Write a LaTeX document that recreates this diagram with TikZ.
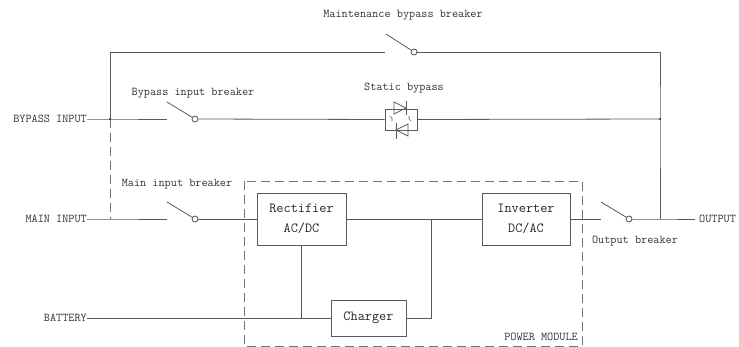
\documentclass[tikz,border=0pt]{standalone}
\usepackage{fontspec}
\usetikzlibrary{calc}
\begin{document}
\begin{tikzpicture}[x=1pt,y=-1pt,
  wire/.style={draw=black!65,line width=0.8pt},
  pmline/.style={draw=black!55,line width=0.8pt,dash pattern=on 9pt off 5pt},
  lbl/.style={font=\fontsize{11.9}{13}\ttfamily,text=black!80,inner sep=0pt},
  blk/.style={draw=black!65,line width=0.8pt,align=center,inner sep=0pt,
    font=\fontsize{13.9}{20}\ttfamily,text=black!85},
  brk/.style={circle,draw=black!70,line width=0.8pt,inner sep=0pt,minimum size=6pt},
  dot/.style={circle,fill=black!80,inner sep=0pt,minimum size=2.2pt}]
\useasboundingbox (0,0) rectangle (739,347);
% labels
\node[lbl,anchor=east] (bi) at (87,119) {BYPASS INPUT};
\node[lbl,anchor=east] (mi) at (87,219) {MAIN INPUT};
\node[lbl,anchor=east] (bat) at (87,318) {BATTERY};
\node[lbl,anchor=west] (out) at (699,219) {OUTPUT};
\node[lbl] (lmb) at (403,15) {Maintenance bypass breaker};
\node[lbl] (lbb) at (193,93) {Bypass input breaker};
\node[lbl] (lmi) at (177,184) {Main input breaker};
\node[lbl] (lsb) at (404,88) {Static bypass};
\node[lbl] (lob) at (635,241) {Output breaker};
\node[lbl,anchor=base east] (lpm) at (578,341) {POWER MODULE};
% blocks
\node[blk,minimum width=89pt,minimum height=52pt] (rect) at (301.5,219) {Rectifier\\AC/DC};
\node[blk,minimum width=88pt,minimum height=52pt] (inv) at (526,219) {Inverter\\DC/AC};
\node[blk,minimum width=75pt,minimum height=36pt] (chg) at (368.5,318) {Charger};
\node[draw=black!65,line width=0.8pt,minimum width=32pt,minimum height=21pt,inner sep=0pt] (sb) at (401,119.5) {};
% power module
\draw[pmline] (244,181) rectangle (582,346);
% coordinates
\coordinate (tl) at (110,52);
\coordinate (tr) at (660,52);
\coordinate (jb) at (110,119);
\coordinate (jm) at (110,219);
\coordinate (rb) at (660,119);
\coordinate (ro) at (660,219);
\coordinate (oend) at (695,219);
\coordinate (dcj) at (431,219);
\coordinate (mbL) at (385,52);
\node[brk] (mb) at (414,52) {};
\coordinate (bbL) at (167,119);
\node[brk] (bb) at (195,119) {};
\coordinate (miL) at (167,219);
\node[brk] (mib) at (195,219) {};
\coordinate (obL) at (601,219);
\node[brk] (ob) at (629,219) {};
% maintenance bypass
\draw[wire] (jb) -- (tl) -- (mbL);
\draw[wire] ($(mbL)+(1,-18)$) -- (mb);
\draw[wire] (mb) -- (tr) -- (rb) -- (ro);
% bypass input
\draw[wire] (bi) -- (jb) -- (bbL);
\draw[wire] ($(bbL)+(0,-17)$) -- (bb);
\draw[wire] (bb) -- (sb.west);
\draw[wire] (sb.east) -- (rb);
\draw[pmline] (jb) -- (jm);
% static bypass thyristors
\draw[wire,line width=0.7pt] (394,102) -- (394,114) -- (406,108) -- cycle;
\draw[wire,line width=0.7pt] (406,101) -- (406,115);
\draw[wire,line width=0.7pt] (408,124) -- (408,136) -- (396,130) -- cycle;
\draw[wire,line width=0.7pt] (396,123) -- (396,139);
\draw[wire,line width=0.6pt] (390,116) -- (392,118) -- (392,121);
\draw[wire,line width=0.6pt] (409,116) -- (409,119) -- (411,121);
% main input
\draw[wire] (mi) -- (jm) -- (miL);
\draw[wire] ($(miL)+(0,-17)$) -- (mib);
\draw[wire] (mib) -- (rect.west);
\draw[wire] (rect.east) -- (inv.west);
\draw[wire] (inv.east) -- (obL);
\draw[wire] ($(obL)+(0,-17)$) -- (ob);
\draw[wire] (ob) -- (ro) -- (oend);
% battery / charger
\draw[wire] (bat) -- (chg.west);
\draw[wire] (rect.south) -- (rect.south |- chg.west);
\draw[wire] (chg.east) -- (dcj |- chg.east) -- (dcj);
% junction dots
\node[dot] at (jb) {};
\node[dot] at (rb) {};
\end{tikzpicture}
\end{document}
